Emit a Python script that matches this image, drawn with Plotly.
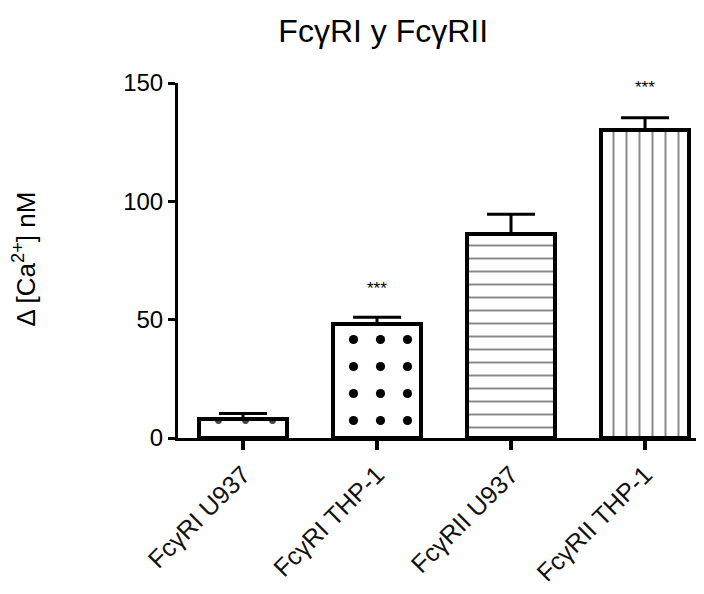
import plotly.graph_objects as go

categories = ["FcγRI U937", "FcγRI THP-1", "FcγRII U937", "FcγRII THP-1"]
means = [8, 48, 86, 130]
errors = [2.3, 3, 8.5, 5.3]
stars = ["", "***", "", "***"]
star_y = [0, 63, 0, 148]
patterns = [".", ".", "-", "|"]
pattern_colors = ["#444444", "#000000", "#888888", "#888888"]
pattern_sizes = [27, 27, 13, 13]
pattern_solidity = [0.05, 0.09, 0.15, 0.15]

FONT = "Arial, Liberation Sans, sans-serif"
xs = list(range(len(categories)))

fig = go.Figure()
for i in xs:
    fig.add_trace(go.Bar(
        x=[i], y=[means[i]], width=0.66,
        marker=dict(color="white", line=dict(color="black", width=4),
                    pattern=dict(shape=patterns[i], fgcolor=pattern_colors[i], bgcolor="white",
                                 fgopacity=1, size=pattern_sizes[i], solidity=pattern_solidity[i],
                                 fillmode="overlay")),
        error_y=dict(type="data", array=[errors[i]], arrayminus=[0], symmetric=False,
                     color="black", thickness=3, width=24),
        showlegend=False,
    ))

for i in xs:
    if stars[i]:
        fig.add_annotation(x=i, y=star_y[i], text=stars[i], showarrow=False,
                           font=dict(family=FONT, size=17, color="black"))

fig.add_annotation(xref="paper", yref="paper", x=-0.327, y=0.504, text="Δ [Ca<sup>2+</sup>] nM",
                   textangle=-90, showarrow=False, font=dict(family=FONT, size=26, color="black"))

fig.update_layout(
    width=704, height=594,
    paper_bgcolor="white", plot_bgcolor="white",
    margin=dict(l=170, r=8, t=75, b=164),
    title=dict(text="FcγRI y FcγRII", x=0.533, xanchor="center", y=0.961, yanchor="middle",
               font=dict(family=FONT, size=32, color="black")),
    bargap=0,
    xaxis=dict(tickmode="array", tickvals=xs, ticktext=categories, range=[-0.485, 3.44],
               showline=True, linecolor="black", linewidth=3, ticks="outside", ticklen=9,
               tickwidth=3.5, tickcolor="black", tickangle=-45, showgrid=False, zeroline=False,
               tickfont=dict(family=FONT, size=25, color="#111111")),
    yaxis=dict(range=[0, 150], tickvals=[0, 50, 100, 150], showline=True, linecolor="black",
               linewidth=3, ticks="outside", ticklen=7, tickwidth=3, tickcolor="black",
               showgrid=False, zeroline=False,
               tickfont=dict(family=FONT, size=24, color="black")),
)

fig.write_html("out.html")
